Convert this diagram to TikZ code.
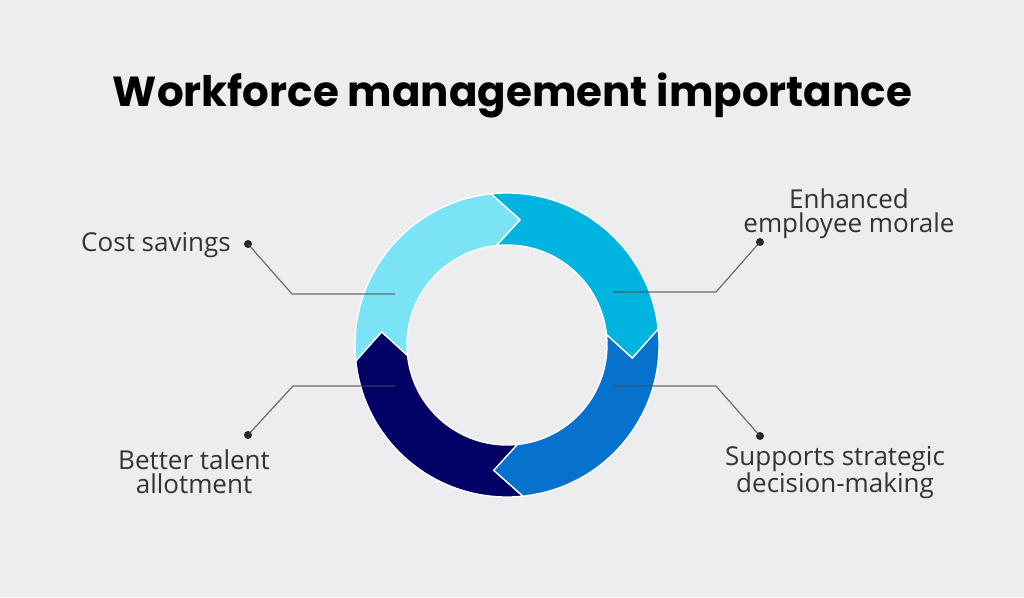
\documentclass[tikz,border=0pt]{standalone}
\usepackage{fontspec}
\setmainfont{Open Sans}
\newfontfamily\titlefont{Poppins}
\definecolor{bgray}{RGB}{237, 237, 240}
\definecolor{lightseg}{RGB}{122, 227, 245}
\definecolor{cyanseg}{RGB}{0, 180, 224}
\definecolor{blueseg}{RGB}{6, 114, 206}
\definecolor{navyseg}{RGB}{0, 0, 102}
\definecolor{labelgray}{RGB}{51, 51, 51}
\usepackage{tikz}
\usetikzlibrary{positioning, calc}

\tikzset{
  segment/.style={fill=#1, draw=white, line width=1pt, line join=miter},
  label/.style={text=labelgray, align=center, inner sep=0pt, font=\fontsize{19.5}{18}\selectfont},
  dot/.style={circle, fill=black!85, inner sep=0pt, minimum size=6pt},
  leader/.style={draw=black!70, opacity=0.8, line width=0.9pt}
}

\begin{document}
\begin{tikzpicture}[x=0.75pt, y=0.75pt]
  \fill[bgray] (0,0) rectangle (1024,597);
  \useasboundingbox (0,0) rectangle (1024,597);

  \node[anchor=base, inner sep=0pt, font=\titlefont\bfseries\fontsize{31.5}{36}\selectfont] (title) at (512.5,490) {Workforce management importance};

  % ring of four arrows
  \coordinate (ring) at (507,252);
  \begin{scope}[shift={(ring)}]
    \foreach \s/\col in {276/navyseg, 186/lightseg, 96/cyanseg, 6/blueseg}{
      \path[segment=\col] (\s:152) arc[start angle=\s, end angle=\s-90, radius=152]
        -- (\s-102:126) -- (\s-90:100) arc[start angle=\s-90, end angle=\s, radius=100]
        -- (\s-12:126) -- cycle;
    }
  \end{scope}

  % labels
  \node[label, anchor=base] (cost) at (156,345) {Cost savings};
  \node[label] (morale) at (849,383) {Enhanced\\employee morale};
  \node[label] (talent) at (194,125.5) {Better talent\\allotment};
  \node[label] (decision) at (835,124.5) {Supports strategic\\decision-making};

  % leader lines
  \node[dot] (cost dot) at (248,353) {};
  \node[dot] (morale dot) at (760,355) {};
  \node[dot] (talent dot) at (248,162) {};
  \node[dot] (decision dot) at (760,161) {};

  \coordinate (cost bend) at (292,303);
  \coordinate (cost end) at (395,303);
  \coordinate (morale bend) at (716,305);
  \coordinate (morale end) at (613,305);
  \coordinate (talent bend) at (293,211);
  \coordinate (talent end) at (395,211);
  \coordinate (decision bend) at (716,211);
  \coordinate (decision end) at (613,211);

  \foreach \n in {cost, morale, talent, decision}{
    \draw[leader] (\n\space dot.center) -- (\n\space bend) -- (\n\space end);
  }
\end{tikzpicture}
\end{document}
